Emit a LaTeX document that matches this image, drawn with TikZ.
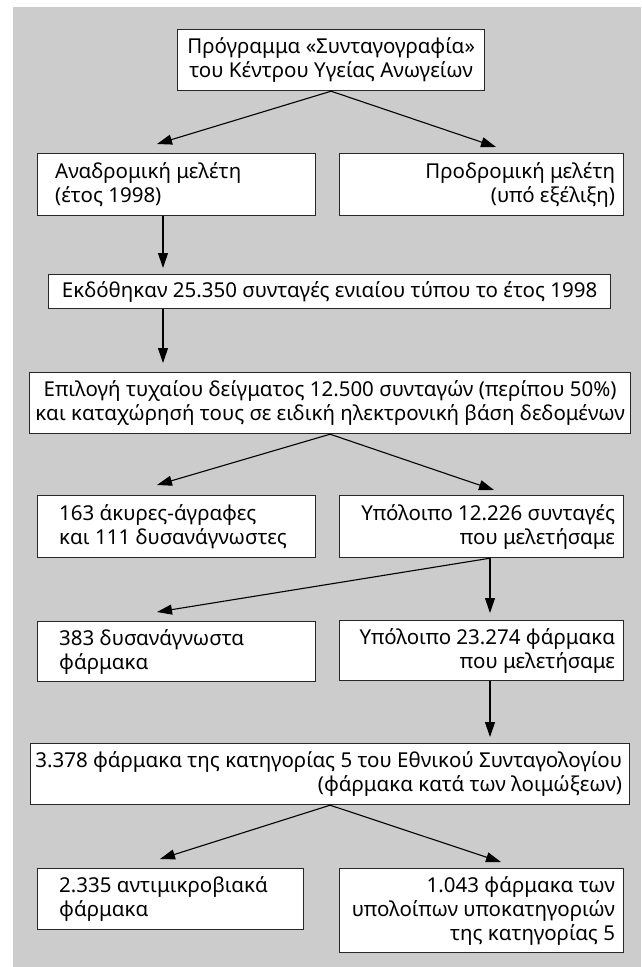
\documentclass[tikz,border=0pt]{standalone}
\usepackage{fontspec}
\setmainfont{Noto Sans}
\usetikzlibrary{arrows.meta}
\definecolor{bggray}{RGB}{204,204,204}
\definecolor{edge}{RGB}{40,40,40}
\begin{document}
\begin{tikzpicture}[x=1pt,y=-1pt,
  box/.style={draw=edge, line width=1.2pt, fill=white, inner sep=0pt, anchor=north west},
  txt/.style={inner sep=0pt, font=\fontsize{20.5}{24}\selectfont},
  arr/.style={line width=1.1pt, draw=black, -{Triangle[length=15pt,width=10pt]}}]
\useasboundingbox (0,0) rectangle (641,967);
\fill[bggray] (13,7) rectangle (641,967);
% boxes
\node[box, minimum width=307pt, minimum height=61pt] (top) at (177,29) {};
\node[box, minimum width=278pt, minimum height=62pt] (L2a) at (37,153) {};
\node[box, minimum width=284pt, minimum height=62pt] (L2b) at (339,153) {};
\node[box, minimum width=562pt, minimum height=34pt] (B3) at (48,274) {};
\node[box, minimum width=601pt, minimum height=61pt] (B4) at (29,372) {};
\node[box, minimum width=278pt, minimum height=62pt] (L5a) at (37,495) {};
\node[box, minimum width=284pt, minimum height=62pt] (L5b) at (339,495) {};
\node[box, minimum width=278pt, minimum height=60pt] (L6a) at (37,621) {};
\node[box, minimum width=284pt, minimum height=60pt] (L6b) at (339,620) {};
\node[box, minimum width=599pt, minimum height=61pt] (B7) at (30,743) {};
\node[box, minimum width=266pt, minimum height=61pt] (L8a) at (37,868) {};
\node[box, minimum width=284pt, minimum height=84pt] (L8b) at (339,868) {};
% texts
\node[txt, align=center] (top-t) at (top.center) {Πρόγραμμα «Συνταγογραφία»\\του Κέντρου Υγείας Ανωγείων};
\node[txt, align=left, anchor=west] (L2a-t) at ([xshift=18pt]L2a.west) {Αναδρομική μελέτη\\(έτος 1998)};
\node[txt, align=right, anchor=east] (L2b-t) at ([xshift=-9pt]L2b.east) {Προδρομική μελέτη\\(υπό εξέλιξη)};
\node[txt, align=center] (B3-t) at (B3.center) {Εκδόθηκαν 25.350 συνταγές ενιαίου τύπου το έτος 1998};
\node[txt, align=center] (B4-t) at (B4.center) {Επιλογή τυχαίου δείγματος 12.500 συνταγών (περίπου 50\%)\\και καταχώρησή τους σε ειδική ηλεκτρονική βάση δεδομένων};
\node[txt, align=left, anchor=west] (L5a-t) at ([xshift=22pt]L5a.west) {163 άκυρες-άγραφες\\και 111 δυσανάγνωστες};
\node[txt, align=right, anchor=east] (L5b-t) at ([xshift=-9pt]L5b.east) {Υπόλοιπο 12.226 συνταγές\\που μελετήσαμε};
\node[txt, align=left, anchor=west] (L6a-t) at ([xshift=22pt]L6a.west) {383 δυσανάγνωστα\\φάρμακα};
\node[txt, align=right, anchor=east] (L6b-t) at ([xshift=-9pt]L6b.east) {Υπόλοιπο 23.274 φάρμακα\\που μελετήσαμε};
\node[txt, align=right, anchor=east] (B7-t) at ([xshift=-8pt]B7.east) {3.378 φάρμακα της κατηγορίας 5 του Εθνικού Συνταγολογίου\\(φάρμακα κατά των λοιμώξεων)};
\node[txt, align=left, anchor=west] (L8a-t) at ([xshift=22pt]L8a.west) {2.335 αντιμικροβιακά\\φάρμακα};
\node[txt, align=right, anchor=east] (L8b-t) at ([xshift=-9pt]L8b.east) {1.043 φάρμακα των\\υπολοίπων υποκατηγοριών\\της κατηγορίας 5};
% arrow tips
\coordinate (t1) at (157,144);
\coordinate (t2) at (496,147);
\coordinate (t3) at (163,268);
\coordinate (t4) at (163,363);
\coordinate (t5) at (157,485);
\coordinate (t6) at (494,490);
\coordinate (t7) at (490,613);
\coordinate (t8) at (157,612);
\coordinate (t9) at (490,737);
\coordinate (t10) at (160,859);
\coordinate (t11) at (501,862);
% connectors
\draw[arr] (top.south) -- (t1);
\draw[arr] (top.south) -- (t2);
\draw[arr] (L2a.south -| t3) -- (t3);
\draw[arr] (B3.south -| t4) -- (t4);
\draw[arr] (B4.south) -- (t5);
\draw[arr] (B4.south) -- (t6);
\draw[arr] (L5b.south -| t7) -- (t7);
\draw[arr] (L5b.south -| t7) -- (t8);
\draw[arr] (L6b.south -| t9) -- (t9);
\draw[arr] (B7.south) -- (t10);
\draw[arr] (B7.south) -- (t11);
\end{tikzpicture}
\end{document}
